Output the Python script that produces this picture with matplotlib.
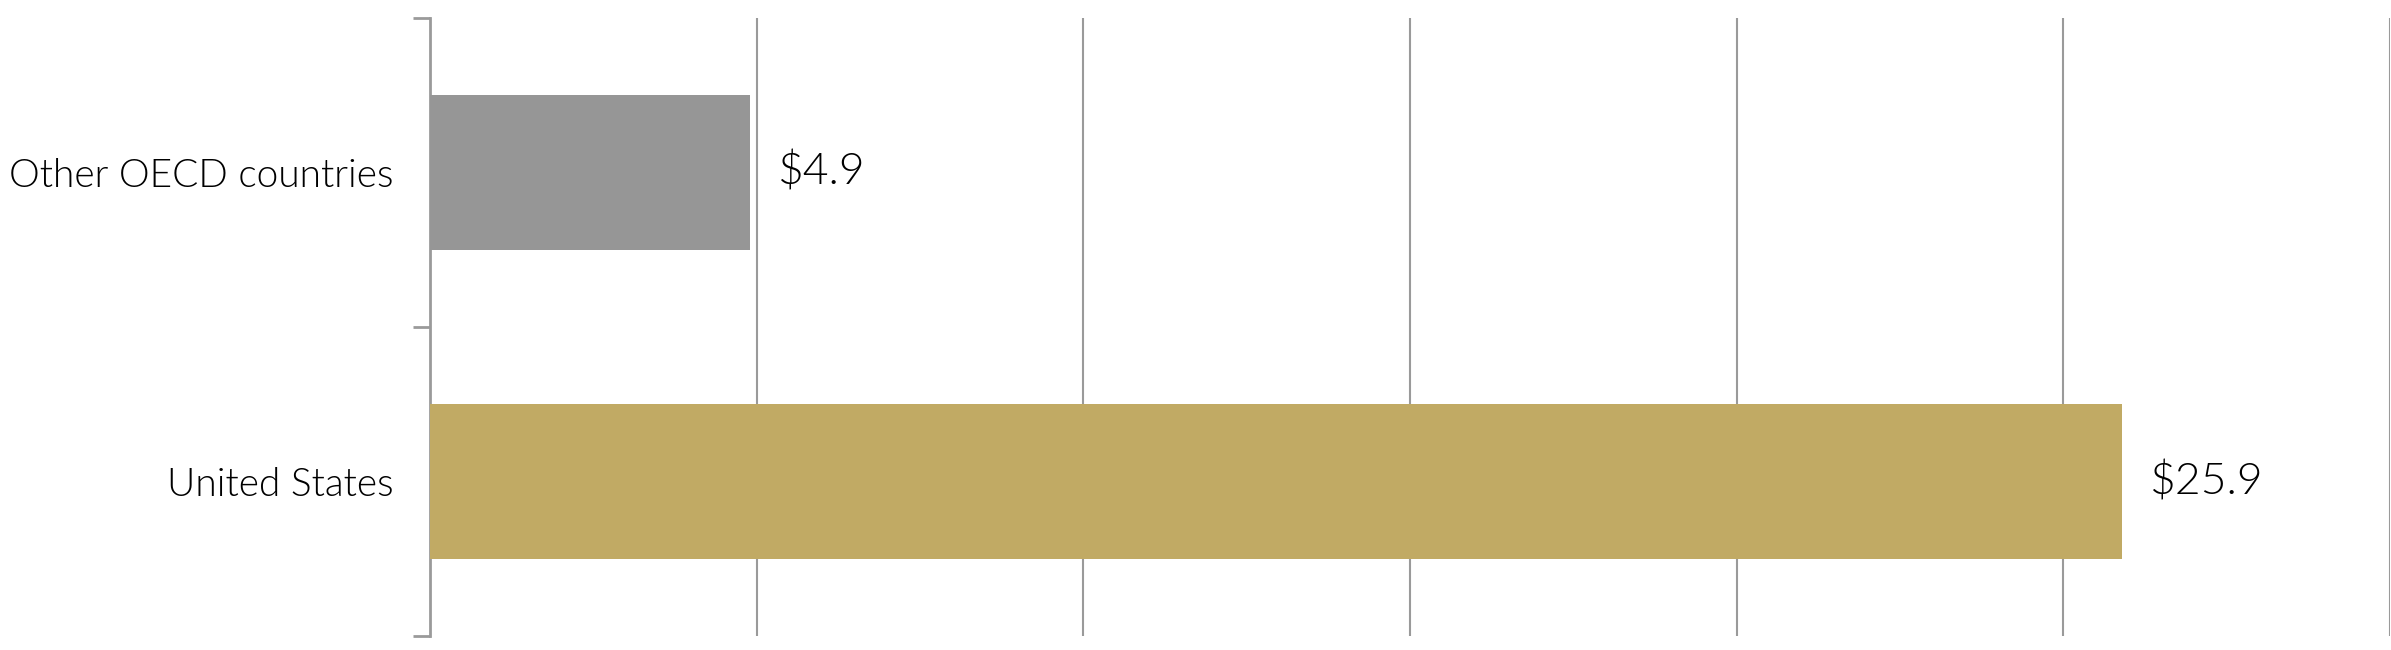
import matplotlib
matplotlib.use("Agg")
import matplotlib.pyplot as plt
from matplotlib.ticker import FixedLocator

categories = ["United States", "Other OECD countries"]
values = [25.9, 4.9]
labels = ["$25.9", "$4.9"]
colors = ["#C1AA64", "#969696"]

plt.rcParams['font.family'] = ['Lato', 'DejaVu Sans']

fig = plt.figure(figsize=(23.91, 6.5), dpi=100)
ax = fig.add_axes([430/2391, 14/650, (2390-430)/2391, (632-14)/650])

ypos = list(range(len(categories)))
ax.barh(ypos, values, height=0.5, color=colors, linewidth=0, zorder=3)
for y, v, t in zip(ypos, values, labels):
    ax.text(v + 0.42, y, t, va='center', ha='left', fontsize=32, fontweight=300, color='#000000')

ax.set_xlim(0, 30)
ax.set_ylim(-0.5, len(categories) - 0.5)
ax.set_xticks([5, 10, 15, 20, 25, 30])
ax.tick_params(axis='x', length=0, labelbottom=False)
ax.grid(axis='x', color='#9a9a9a', linewidth=1.5, zorder=0)

ax.set_yticks(ypos)
ax.set_yticklabels(categories, fontsize=28, fontweight=300, color='#000000')
ax.yaxis.set_minor_locator(FixedLocator([-0.5, 0.5, 1.5]))
ax.tick_params(axis='y', which='major', length=0, pad=26)
ax.tick_params(axis='y', which='minor', length=12, width=2, color='#9a9a9a')

for s in ['top', 'right', 'bottom']:
    ax.spines[s].set_visible(False)
ax.spines['left'].set_color('#9a9a9a')
ax.spines['left'].set_linewidth(2)

fig.savefig("out.png", dpi=100, facecolor='white')
